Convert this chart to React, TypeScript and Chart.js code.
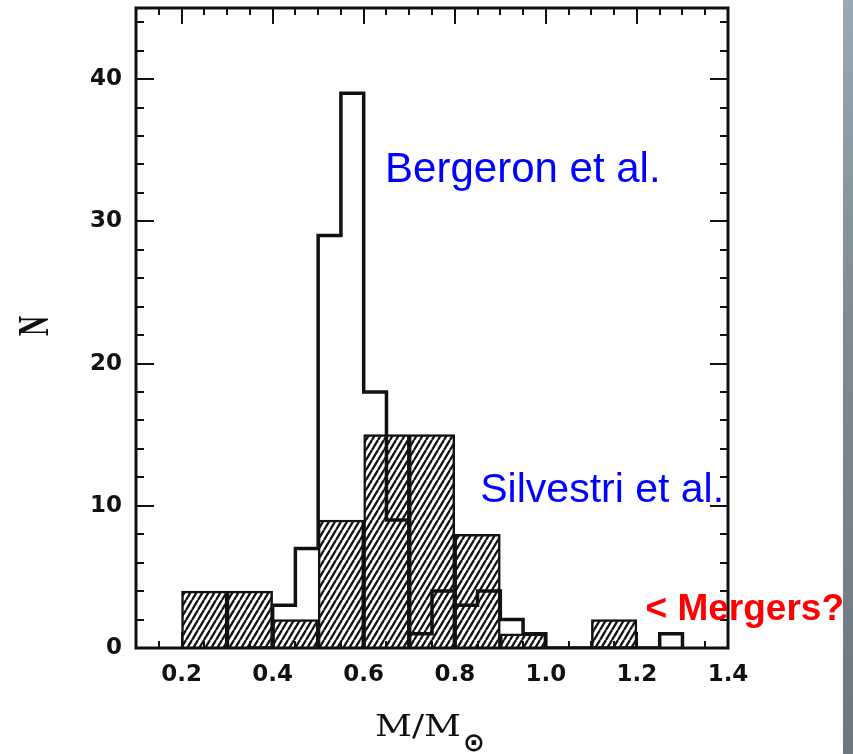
import React, { useEffect, useRef } from 'react';
import { Chart, registerables } from 'chart.js';

Chart.register(...registerables);

// ---- data ----
const xTickValues = [0.2, 0.4, 0.6, 0.8, 1.0, 1.2, 1.4];
const yTickValues = [0, 10, 20, 30, 40];

// Silvestri et al. (hatched, 0.1 wide bins)
const silvestriBinCenters = [0.25, 0.35, 0.45, 0.55, 0.65, 0.75, 0.85, 0.95, 1.05, 1.15];
const silvestriCounts = [4, 4, 2, 9, 15, 15, 8, 1, 0, 2];

// Bergeron et al. (open outline, 0.05 wide bins, left edges)
const bergeronBinStarts = [0.35, 0.4, 0.45, 0.5, 0.55, 0.6, 0.65, 0.7, 0.75, 0.8, 0.85, 0.9, 0.95, 1.0, 1.05, 1.1, 1.15, 1.2, 1.25];
const bergeronCounts = [0, 3, 7, 29, 39, 18, 9, 1, 4, 3, 4, 2, 1, 0, 0, 0, 0, 0, 1];
const bergeronBinWidth = 0.05;

const annotations = [
  { text: 'Bergeron et al.', x: 0.647, y: 32.8, color: '#0000ff', font: '42px "Liberation Sans", Arial, sans-serif' },
  { text: 'Silvestri et al.', x: 0.856, y: 10.3, color: '#0000ff', font: '41px "Liberation Sans", Arial, sans-serif' },
  { text: '< Mergers?', x: 1.219, y: 1.95, color: '#ff0000', font: 'bold 37px "Liberation Sans", Arial, sans-serif' },
];

function makeHatch(): CanvasPattern | string {
  const pc = document.createElement('canvas');
  pc.width = 6;
  pc.height = 10;
  const g = pc.getContext('2d');
  if (!g) return '#888';
  g.fillStyle = '#ffffff';
  g.fillRect(0, 0, 6, 10);
  g.strokeStyle = '#111111';
  g.lineWidth = 2.3;
  g.beginPath();
  g.moveTo(0, 10); g.lineTo(6, 0);
  g.moveTo(-6, 10); g.lineTo(0, 0);
  g.moveTo(6, 10); g.lineTo(12, 0);
  g.stroke();
  const p = g.createPattern(pc, 'repeat');
  return p || '#888';
}

const framePlugin = {
  id: 'frameTicks',
  afterDatasetsDraw(chart: any) {
    const { ctx, chartArea: a, scales } = chart;
    const x = scales.x;
    const y = scales.y;
    ctx.save();
    ctx.strokeStyle = '#111';
    ctx.lineWidth = 2;
    ctx.beginPath();
    for (let k = 3; k <= 27; k++) {
      const v = k * 0.05;
      const px = Math.round(x.getPixelForValue(v));
      const len = k % 4 === 0 ? 16 : 7;
      ctx.moveTo(px, a.top);
      ctx.lineTo(px, a.top + len);
      ctx.moveTo(px, a.bottom);
      ctx.lineTo(px, a.bottom - len);
    }
    for (let v = 2; v <= 44; v += 2) {
      const py = Math.round(y.getPixelForValue(v));
      const len = v % 10 === 0 ? 18 : 8;
      ctx.moveTo(a.left, py);
      ctx.lineTo(a.left + len, py);
      ctx.moveTo(a.right, py);
      ctx.lineTo(a.right - len, py);
    }
    ctx.stroke();
    ctx.lineWidth = 3;
    ctx.strokeRect(a.left, a.top, a.right - a.left, a.bottom - a.top);
    ctx.restore();
  },
  afterDraw(chart: any) {
    const { ctx, scales } = chart;
    const x = scales.x;
    const y = scales.y;
    ctx.save();
    // annotations
    ctx.textAlign = 'left';
    ctx.textBaseline = 'alphabetic';
    for (const an of annotations) {
      ctx.fillStyle = an.color;
      ctx.font = an.font;
      ctx.fillText(an.text, x.getPixelForValue(an.x), y.getPixelForValue(an.y));
    }
    // y title "N"
    ctx.fillStyle = '#111';
    ctx.save();
    ctx.translate(36, 326);
    ctx.rotate(-Math.PI / 2);
    ctx.scale(1, 1.6);
    ctx.font = 'bold 28px "Liberation Serif", "Times New Roman", serif';
    ctx.textAlign = 'center';
    ctx.textBaseline = 'middle';
    ctx.fillText('N', 0, 0);
    ctx.restore();
    // x title "M/M⊙"
    ctx.save();
    ctx.font = '30px "DejaVu Serif", serif';
    const w = ctx.measureText('M/M').width;
    ctx.translate(375, 736);
    ctx.scale(86 / w, 1);
    ctx.textAlign = 'left';
    ctx.textBaseline = 'alphabetic';
    ctx.fillText('M/M', 0, 0);
    ctx.restore();
    ctx.font = 'bold 26px "DejaVu Sans", sans-serif';
    ctx.textAlign = 'center';
    ctx.textBaseline = 'middle';
    ctx.fillText('\u2299', 474, 744);
    ctx.restore();
  },
};

export default function App() {
  const ref = useRef<HTMLCanvasElement | null>(null);

  useEffect(() => {
    if (!ref.current) return;
    const hatch = makeHatch();
    const silvestriData = silvestriBinCenters.map((c, i) => ({ x: c, y: silvestriCounts[i] }));
    const bergeronData = bergeronBinStarts.map((s, i) => ({ x: s, y: bergeronCounts[i] }));
    bergeronData.push({ x: bergeronBinStarts[bergeronBinStarts.length - 1] + bergeronBinWidth, y: 0 });

    const tickFont = { family: '"DejaVu Sans", sans-serif', weight: 'bold' as const, size: 23 };

    const chart = new Chart(ref.current, {
      type: 'bar',
      data: {
        datasets: [
          {
            type: 'bar',
            label: 'Silvestri et al.',
            data: silvestriData as any,
            backgroundColor: hatch as any,
            borderColor: '#111',
            borderWidth: 2.5,
            barPercentage: 1,
            categoryPercentage: 1,
            order: 2,
          } as any,
          {
            type: 'line',
            label: 'Bergeron et al.',
            data: bergeronData as any,
            borderColor: '#111',
            borderWidth: 3.5,
            stepped: true,
            pointRadius: 0,
            fill: false,
            tension: 0,
            order: 1,
          } as any,
        ],
      },
      options: {
        responsive: false,
        devicePixelRatio: 1,
        animation: false,
        layout: { padding: { top: 8, right: 125, left: 0, bottom: 0 } },
        plugins: { legend: { display: false }, tooltip: { enabled: false } },
        scales: {
          x: {
            type: 'linear',
            min: 0.1,
            max: 1.4,
            offset: false,
            grid: { display: false, drawTicks: false, offset: false },
            border: { display: false },
            afterBuildTicks: (s: any) => { s.ticks = xTickValues.map((v) => ({ value: v })); },
            afterFit: (s: any) => { s.height = 106; s.paddingLeft = 0; s.paddingRight = 0; },
            ticks: {
              font: tickFont,
              color: '#111',
              padding: 13,
              maxRotation: 0,
              autoSkip: false,
              callback: (v: any) => Number(v).toFixed(1),
            },
          },
          y: {
            type: 'linear',
            min: 0,
            max: 45,
            grid: { display: false, drawTicks: false },
            border: { display: false },
            afterBuildTicks: (s: any) => { s.ticks = yTickValues.map((v) => ({ value: v })); },
            afterFit: (s: any) => { s.width = 136; s.paddingTop = 0; s.paddingBottom = 0; },
            ticks: {
              font: tickFont,
              color: '#111',
              padding: 14,
              autoSkip: false,
              callback: (v: any) => String(v),
            },
          },
        },
      } as any,
      plugins: [framePlugin],
    });
    return () => chart.destroy();
  }, []);

  return (
    <div style={{ position: 'fixed', left: 0, top: 0, width: 853, height: 754, background: '#ffffff' }}>
      <canvas ref={ref} width={853} height={754} style={{ display: 'block' }} />
      <div
        style={{
          position: 'absolute',
          left: 843,
          top: 0,
          width: 10,
          height: 754,
          background: 'linear-gradient(to bottom, #9aa9b4 0%, #7f8c96 40%, #6b7780 100%)',
        }}
      />
    </div>
  );
}
